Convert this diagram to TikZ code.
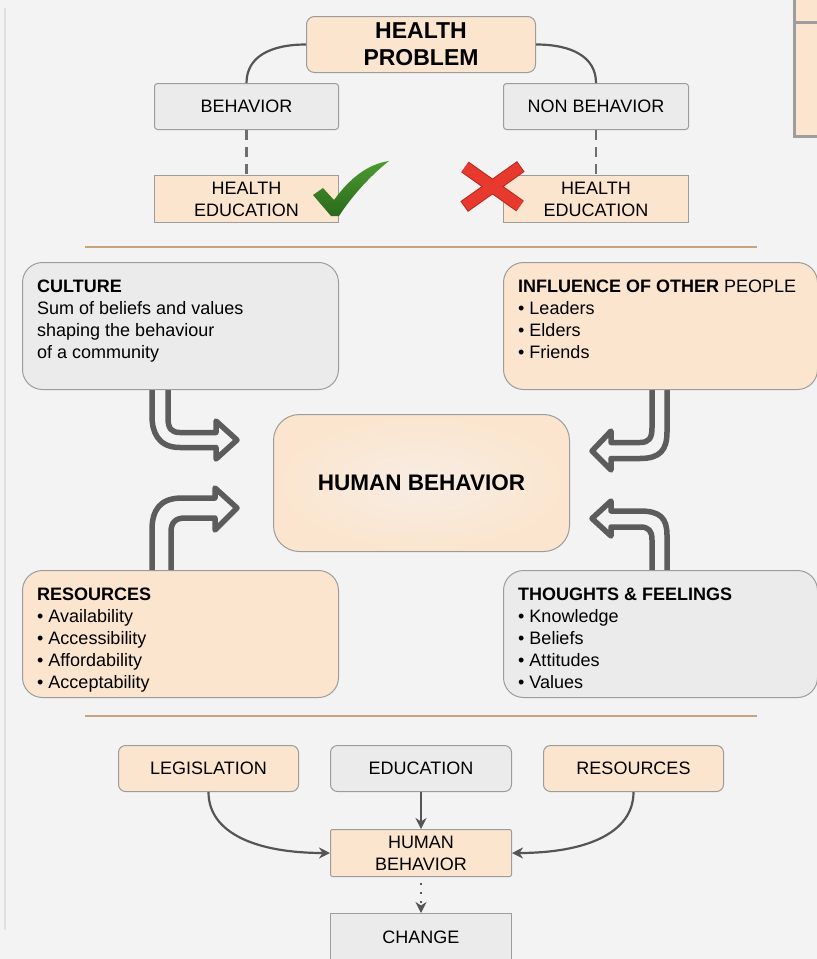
\documentclass[tikz,border=0pt]{standalone}
\usepackage{fontspec}
\setmainfont{Liberation Sans}
\usetikzlibrary{arrows.meta}

\definecolor{pagebg}{HTML}{F3F3F3}
\definecolor{peach}{HTML}{FBE5CE}
\definecolor{peachlight}{HTML}{F7EDE3}
\definecolor{lgray}{HTML}{EBEBEB}
\definecolor{edgegray}{HTML}{9C9C9C}
\definecolor{conncol}{HTML}{555555}
\definecolor{hollowcol}{HTML}{5C5C5C}
\definecolor{rulecol}{HTML}{C9A27E}
\definecolor{chkdark}{HTML}{2A6A1C}
\definecolor{chklight}{HTML}{4C9A30}
\definecolor{xred}{HTML}{E8392E}
\definecolor{xdark}{HTML}{B8271F}

\tikzset{
  box/.style={draw=edgegray, line width=1pt, inner sep=0pt, anchor=north west,
    font=\fontsize{18}{22}\selectfont, align=center},
  pbox/.style={box, fill=peach},
  gbox/.style={box, fill=lgray},
  txt/.style={anchor=north west, align=left, inner sep=0pt,
    font=\fontsize{18}{22}\selectfont},
  conn/.style={draw=conncol, line width=2.2pt},
  tip/.style={-{Stealth[length=11pt,width=11pt,inset=3.5pt]}},
  dashconn/.style={draw=conncol!85, line width=2.5pt, dash pattern=on 10pt off 7pt},
  dotconn/.style={draw=conncol, line width=2.2pt, dash pattern=on 2pt off 7pt},
  hollow/.style={draw=hollowcol, line width=5.5pt, line join=round},
  sepline/.style={draw=rulecol, line width=2pt},
}

\begin{document}
\begin{tikzpicture}[x=1pt,y=-1pt]
\fill[pagebg] (0,0) rectangle (817,959);
\useasboundingbox (0,0) rectangle (817,959);
\clip (0,0) rectangle (817,959);

% page edge and the corner of a neighbouring panel
\draw[draw=black!12, line width=2pt] (5,8) -- (5,930);
\draw[draw=black!38, line width=3pt, fill=peach] (794,-5) rectangle (830,136);
\draw[draw=black!38, line width=3pt] (794,22) -- (830,22);

% ---------- health problem tree ----------
\node[pbox, rounded corners=8pt, minimum width=229pt, minimum height=56pt,
  font=\bfseries\fontsize{23}{27}\selectfont] (problem) at (306,16) {HEALTH\\PROBLEM};
\node[gbox, rounded corners=3pt, minimum width=184pt, minimum height=46pt] (beh) at (154,83) {BEHAVIOR};
\node[gbox, rounded corners=3pt, minimum width=185pt, minimum height=46pt] (nonbeh) at (503,83) {NON BEHAVIOR};
\node[pbox, minimum width=184pt, minimum height=47pt] (hedl) at (154,175) {HEALTH\\EDUCATION};
\node[pbox, minimum width=185pt, minimum height=47pt] (hedr) at (503,175) {HEALTH\\EDUCATION};

\draw[conn] (problem.west) .. controls +(-36,0) and +(0,-26) .. (beh.north);
\draw[conn] (problem.east) .. controls +(36,0) and +(0,-26) .. (nonbeh.north);
\draw[dashconn] (beh.south) -- (hedl.north);
\draw[dashconn] (nonbeh.south) -- (hedr.north);

% check mark
\shade[top color=chklight, bottom color=chkdark]
  (313,195) -- (323,188) -- (334,200)
  .. controls (350,178) and (368,164) .. (389,161)
  .. controls (370,176) and (352,196) .. (339,216)
  -- (331,216) -- cycle;
% cross
\draw[xdark, line width=13pt, shorten <=-1pt, shorten >=-1pt] (465,167) -- (520,206) (465,206) -- (520,167);
\draw[xred, line width=11pt] (465,167) -- (520,206) (465,206) -- (520,167);

\draw[sepline] (85,247) -- (757,247);

% ---------- factors of human behaviour ----------
% hollow bent arrows
\draw[hollow] (152,388) -- (152,416)
  .. controls (152,432) and (158,447.5) .. (180,447.5)
  -- (216,447.5) -- (216,459) -- (237,440) -- (216,421) -- (216,432.5)
  -- (180,432.5) .. controls (171,432.5) and (168,428) .. (168,418) -- (168,388);
\draw[hollow] (152,571) -- (152,530)
  .. controls (152,510) and (160,498) .. (182,498)
  -- (215,498) -- (215,488) -- (237,508) -- (215,530) -- (215,518)
  -- (185,518) .. controls (176,518) and (171,522) .. (171,532) -- (171,571);
\draw[hollow] (667,388) -- (667,432)
  .. controls (667,450) and (660,458.5) .. (640,458.5)
  -- (611,458.5) -- (611,470) -- (592,451) -- (611,431) -- (611,442.5)
  -- (640,442.5) .. controls (649,442.5) and (652,438) .. (652,428) -- (652,388);
\draw[hollow] (667,571) -- (667,535)
  .. controls (667,518) and (660,511) .. (640,511)
  -- (611,511) -- (611,501) -- (592,518.5) -- (611,536) -- (611,527)
  -- (640,527) .. controls (649,527) and (652,531) .. (652,540) -- (652,571);

\node[gbox, rounded corners=20pt, minimum width=316pt, minimum height=127pt] (culture) at (22,262) {};
\node[pbox, rounded corners=20pt, minimum width=314pt, minimum height=127pt] (influence) at (503,262) {};
\node[box, rounded corners=26pt, minimum width=296pt, minimum height=137pt,
  inner color=peachlight, outer color=peach,
  font=\bfseries\fontsize{22.5}{27}\selectfont] (hb) at (273,414) {HUMAN BEHAVIOR};
\node[pbox, rounded corners=20pt, minimum width=316pt, minimum height=127pt] (resources) at (22,570) {};
\node[gbox, rounded corners=20pt, minimum width=314pt, minimum height=127pt] (thoughts) at (503,570) {};

\node[txt] (culturetxt) at (37,280) {\textbf{CULTURE}\\Sum of beliefs and values\\shaping the behaviour\\of a community};
\node[txt] (influencetxt) at (518,280) {\textbf{INFLUENCE OF OTHER} PEOPLE\\• Leaders\\• Elders\\• Friends};
\node[txt] (resourcestxt) at (37,588) {\textbf{RESOURCES}\\• Availability\\• Accessibility\\• Affordability\\• Acceptability};
\node[txt] (thoughtstxt) at (518,588) {\textbf{THOUGHTS \& FEELINGS}\\• Knowledge\\• Beliefs\\• Attitudes\\• Values};

\draw[sepline] (85,716) -- (757,716);

% ---------- levers for change ----------
\node[pbox, rounded corners=7pt, minimum width=180pt, minimum height=46pt] (legis) at (118,745) {LEGISLATION};
\node[gbox, rounded corners=7pt, minimum width=181pt, minimum height=46pt] (edu) at (330,745) {EDUCATION};
\node[pbox, rounded corners=7pt, minimum width=180pt, minimum height=46pt] (res2) at (543,745) {RESOURCES};
\node[pbox, rounded corners=2pt, minimum width=181pt, minimum height=47pt] (hb2) at (330,829) {HUMAN\\BEHAVIOR};
\node[gbox, minimum width=181pt, minimum height=48pt] (change) at (330,913) {CHANGE};

\draw[conn, tip] (edu.south) -- (hb2.north);
\draw[conn, tip] (legis.south) .. controls +(0,42) and +(-72,0) .. (hb2.west);
\draw[conn, tip] (res2.south) .. controls +(0,42) and +(72,0) .. (hb2.east);
\draw[dotconn, tip] (hb2.south) ++(0,6) -- (change.north);
\end{tikzpicture}
\end{document}
